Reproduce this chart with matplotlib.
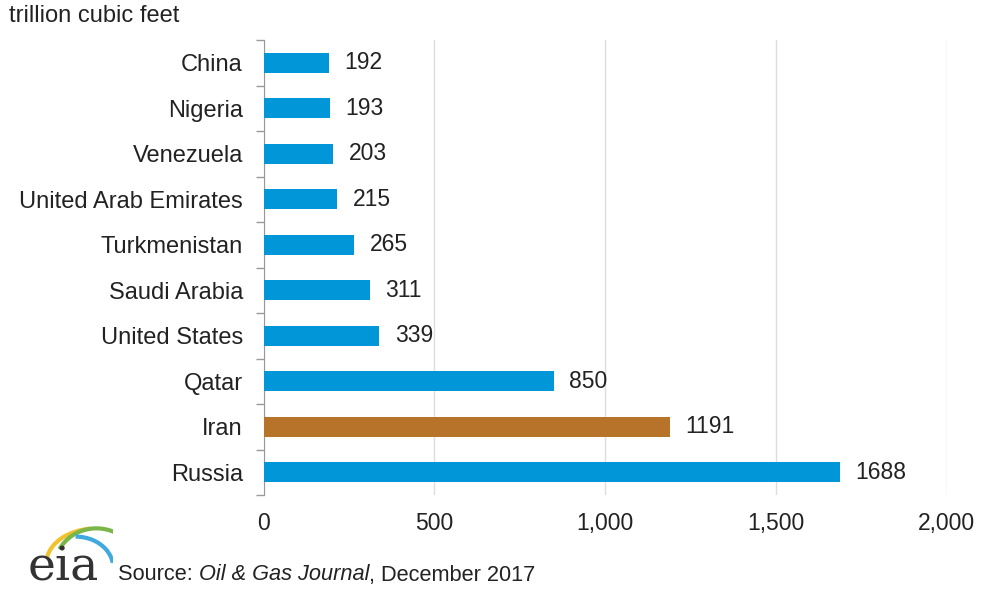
import matplotlib.pyplot as plt
from matplotlib.patches import Arc

countries = ['Russia', 'Iran', 'Qatar', 'United States', 'Saudi Arabia',
             'Turkmenistan', 'United Arab Emirates', 'Venezuela', 'Nigeria', 'China']
reserves = [1688, 1191, 850, 339, 311, 265, 215, 203, 193, 192]
highlight = 'Iran'
xticks = [0, 500, 1000, 1500, 2000]
xticklabels = ['0', '500', '1,000', '1,500', '2,000']

blue = '#0096d7'
brown = '#b8732a'
txt = '#222222'

plt.rcParams['font.family'] = ['Liberation Sans', 'DejaVu Sans']

fig = plt.figure(figsize=(9.84, 5.9), dpi=100)
ax = fig.add_axes([0.268, 0.161, 0.694, 0.771])

colors = [brown if c == highlight else blue for c in countries]
ax.barh(range(len(countries)), reserves, height=0.44, color=colors, zorder=3)
for i, v in enumerate(reserves):
    ax.text(v + 45, i, str(v), va='center', ha='left', fontsize=16.5, color=txt)

ax.set_xlim(0, 2000)
ax.set_ylim(-0.5, len(countries) - 0.5)
ax.set_xticks(xticks)
ax.set_xticklabels(xticklabels, fontsize=16.5, color=txt)
ax.set_yticks(range(len(countries)))
ax.set_yticklabels(countries, fontsize=17, color=txt)
ax.tick_params(axis='y', length=0, pad=15)
ax.tick_params(axis='x', length=0, pad=12)
# ticks between categories on the y axis
ax.set_yticks([i - 0.5 for i in range(len(countries) + 1)], minor=True)
ax.tick_params(axis='y', which='minor', length=6, color='#999999', width=1)

ax.grid(axis='x', color='#dddddd', linewidth=1, zorder=0)
for s in ['top', 'right', 'bottom']:
    ax.spines[s].set_visible(False)
ax.spines['left'].set_color('#999999')

fig.text(0.009, 0.973, 'trillion cubic feet', fontsize=17, color=txt, va='center')

# source line, pieces placed one after another
fig.canvas.draw()
r = fig.canvas.get_renderer()
x = 118
parts = [('Source: ', 'normal'), ('Oil & Gas Journal', 'italic'), (', December 2017', 'normal')]
for s, st in parts:
    t = fig.text(x / 984, 1 - 575 / 590, s, fontsize=15.7, style=st, color=txt, va='center')
    bb = t.get_window_extent(renderer=r)
    x = bb.x1

# eia logo
fig.text(0.028, 1 - 568 / 590, 'eia', fontsize=34, family='DejaVu Serif', color='#333333', va='center')
lax = fig.add_axes([0.03, 0.045, 0.085, 0.07])
lax.set_xlim(0, 1)
lax.set_ylim(0, 1)
lax.axis('off')
lax.add_patch(Arc((0.8, 0.0), 1.2, 1.7, theta1=95, theta2=165, color='#f2c12e', lw=3))
lax.add_patch(Arc((0.8, -0.1), 1.0, 1.9, theta1=60, theta2=135, color='#7ab648', lw=3))
lax.add_patch(Arc((0.55, -0.1), 0.9, 1.5, theta1=-30, theta2=90, color='#3fa9e0', lw=3))

fig.savefig('out.png', dpi=100)
